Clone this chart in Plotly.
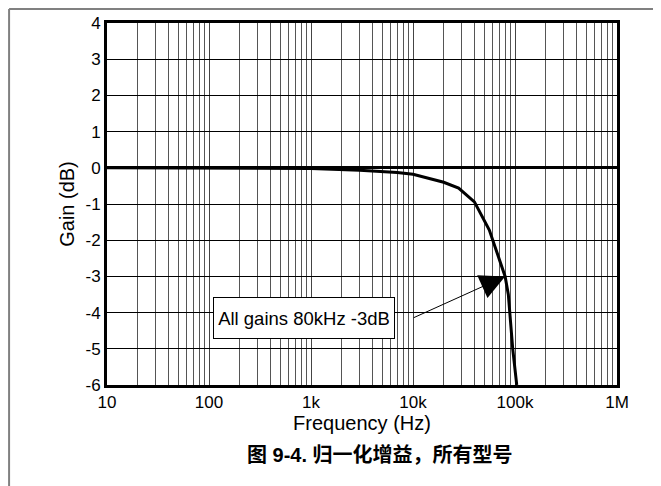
import plotly.graph_objs as go

# datos de la curva
frecuencia = [10, 100, 1000, 3000, 7000, 10000, 20000, 28000, 40000, 56000, 80000, 86000, 95000, 104000]
ganancia = [0.0, 0.0, -0.02, -0.07, -0.13, -0.18, -0.4, -0.56, -0.94, -1.72, -3.0, -3.5, -5.0, -6.0]

# marcas de los ejes
x_ticks = [10, 100, 1000, 10000, 100000, 1000000]
x_labels = ['10', '100', '1k', '10k', '100k', '1M']
y_ticks = [4, 3, 2, 1, 0, -1, -2, -3, -4, -5, -6]
y_labels = ['4', '3', '2', '1', '0', '-1', '-2', '-3', '-4', '-5', '-6']

# líneas menores de la rejilla (2..9 en cada década)
x_menor = [m * d for d in [10, 100, 1000, 10000, 100000] for m in range(2, 10)]

fuente = 'Arial, Liberation Sans, sans-serif'

trace0 = go.Scatter(x=frecuencia, y=ganancia,
                    mode='lines',
                    line={'color': 'black', 'width': 3},
                    showlegend=False)

# el navegador deja 8 px de margen en el body
layout = go.Layout(width=653, height=478,
                   margin=dict(l=99, r=44, t=15, b=101),
                   paper_bgcolor='white',
                   plot_bgcolor='white',
                   font=dict(family=fuente, size=17, color='black'))

fig = go.Figure(data=[trace0], layout=layout)

fig.update_xaxes(type='log', range=[1, 6],
                 tickmode='array', tickvals=x_ticks, ticktext=x_labels,
                 ticks='', showgrid=True, gridcolor='#444', gridwidth=1,
                 minor=dict(tickmode='array', tickvals=x_menor, showgrid=True,
                            gridcolor='#555', gridwidth=1, ticks=''),
                 showline=True, linecolor='black', linewidth=3, mirror=True,
                 title=dict(text='Frequency (Hz)', standoff=2),
                 automargin=False)

fig.update_yaxes(range=[-6, 4], tickmode='array', tickvals=y_ticks, ticktext=y_labels,
                 ticks='', showgrid=True, gridcolor='black', gridwidth=1,
                 zeroline=True, zerolinecolor='black', zerolinewidth=3,
                 showline=True, linecolor='black', linewidth=3, mirror=True,
                 title=dict(text='Gain (dB)', standoff=6),
                 automargin=False)

# cuadro de texto
fig.add_annotation(x=2.931, y=-4.15, xref='x', yref='y',
                   text='All gains 80kHz -3dB', showarrow=False,
                   font=dict(family=fuente, size=18.5, color='black'),
                   bgcolor='white', bordercolor='black', borderwidth=1,
                   borderpad=2, width=176, height=36)

# flecha hacia el punto de -3 dB
fig.add_annotation(x=4.903, y=-3, xref='x', yref='y',
                   text='', showarrow=True,
                   ax=-93, ay=42, axref='pixel', ayref='pixel',
                   arrowhead=2, arrowsize=5, arrowwidth=1, arrowcolor='black')

# tramo horizontal de la flecha
fig.add_shape(type='line', xref='x', yref='y',
              xsizemode='pixel', xanchor=80000, x0=-110, x1=-93,
              ysizemode='pixel', yanchor=-3, y0=-42, y1=-42,
              line=dict(color='black', width=1))

# pie de figura
fig.add_annotation(x=0.535, y=-0.193, xref='paper', yref='paper', yanchor='middle',
                   text='<b>图 9-4. 归一化增益，所有型号</b>', showarrow=False,
                   font=dict(family='Arial, Noto Sans CJK SC', size=20, color='black'))

# marco gris (arriba e izquierda)
fig.add_shape(type='line', xref='paper', yref='paper',
              x0=-0.192, x1=1.2, y0=1.0387, y1=1.0387,
              line=dict(color='#808080', width=2))
fig.add_shape(type='line', xref='paper', yref='paper',
              x0=-0.192, x1=-0.192, y0=1.0387, y1=-0.3,
              line=dict(color='#808080', width=2))

fig.write_html('out.html')
